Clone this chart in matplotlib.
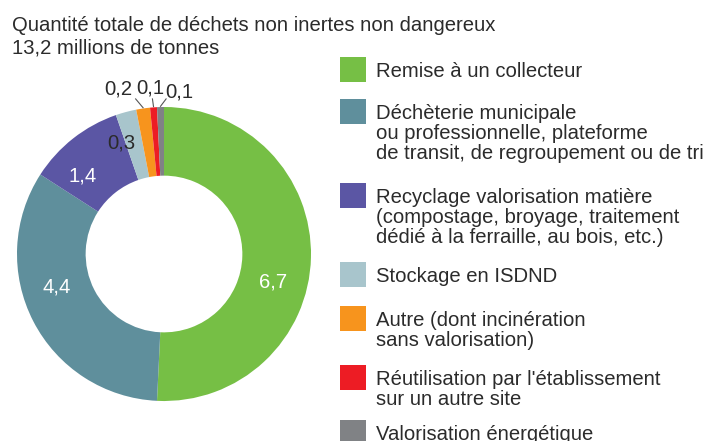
import numpy as np
import matplotlib
matplotlib.use("Agg")
import matplotlib.pyplot as plt
from matplotlib.patches import Rectangle

plt.rcParams['font.family'] = ['Liberation Sans', 'DejaVu Sans']

# donnees
valeurs = [6.7, 4.4, 1.4, 0.3, 0.2, 0.1, 0.1]
etiquettes = ["6,7", "4,4", "1,4", "0,3", "0,2", "0,1", "0,1"]
couleurs = ["#76bf45", "#5f8f9c", "#5b56a4", "#a8c5cc", "#f7941d", "#ed1c24", "#808285"]
legende = [
    ["Remise à un collecteur"],
    ["Déchèterie municipale", "ou professionnelle, plateforme", "de transit, de regroupement ou de tri"],
    ["Recyclage valorisation matière", "(compostage, broyage, traitement", "dédié à la ferraille, au bois, etc.)"],
    ["Stockage en ISDND"],
    ["Autre (dont incinération", "sans valorisation)"],
    ["Réutilisation par l'établissement", "sur un autre site"],
    ["Valorisation énergétique"],
]
titre = ["Quantité totale de déchets non inertes non dangereux", "13,2 millions de tonnes"]

W, H = 706, 441
txt = "#2b2b2b"
fs = 14.6

fig = plt.figure(figsize=(W / 100, H / 100), dpi=100)

# le donut
cx, cy, R = 164, 254, 147
ext = 1.4
ax = fig.add_axes([(cx - ext * R) / W, (H - cy - ext * R) / H, 2 * ext * R / W, 2 * ext * R / H])
wedges, _ = ax.pie(valeurs, colors=couleurs, startangle=90, counterclock=False,
                   radius=1, wedgeprops=dict(width=0.467, linewidth=0))
ax.set_xlim(-ext, ext)
ax.set_ylim(-ext, ext)
ax.set_aspect('equal')
ax.axis('off')

# etiquettes dans l'anneau / dehors
decal_angle = [-13, -10, 8, 6]
couleur_lab = ["white", "white", "white", txt]
decal_x = [-0.15, -0.015, 0.13]
for i, w in enumerate(wedges):
    mid = np.deg2rad((w.theta1 + w.theta2) / 2)
    if i < 4:
        a = mid + np.deg2rad(decal_angle[i])
        r = 0.765 if i < 3 else 0.81
        ax.text(r * np.cos(a), r * np.sin(a), etiquettes[i], ha='center', va='center',
                fontsize=fs, color=couleur_lab[i])
    else:
        x0, y0 = np.cos(mid), np.sin(mid)
        xt = 1.13 * np.cos(mid) + decal_x[i - 4]
        yt = 1.13 * np.sin(mid) - (0.03 if i == 6 else 0)
        x1 = x0 + 0.3 * (xt - x0)
        ax.plot([x0, x1], [y0 + 0.005, 1.055], color="#555555", lw=0.8)
        ax.text(xt, yt + 0.005, etiquettes[i], ha='center', va='center', fontsize=fs, color=txt)

# titre et legende
ov = fig.add_axes([0, 0, 1, 1])
ov.set_xlim(0, W)
ov.set_ylim(H, 0)
ov.axis('off')

ov.text(12, 31, titre[0], fontsize=fs, color=txt, va='baseline')
ov.text(12, 53, titre[1], fontsize=fs, color=txt, va='baseline')

haut_boites = [57, 99, 183, 262, 306, 365, 420]
for k, lignes in enumerate(legende):
    top = haut_boites[k]
    ov.add_patch(Rectangle((340, top), 26, 25, facecolor=couleurs[k], edgecolor='none'))
    for j, l in enumerate(lignes):
        ov.text(376, top + 20 + 20 * j, l, fontsize=fs, color=txt, va='baseline')

fig.savefig("out.png", dpi=100)
